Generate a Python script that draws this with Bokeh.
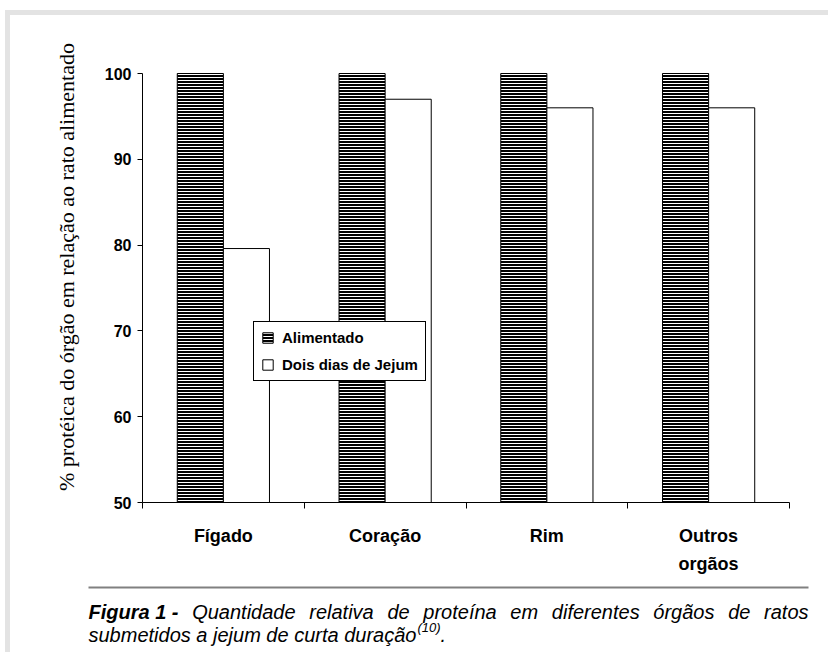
from bokeh.plotting import figure
from bokeh.layouts import column, row
from bokeh.models import (Range1d, FixedTicker, Legend, LegendItem, Label, BoxAnnotation)
from bokeh.embed import file_html
from bokeh.resources import INLINE

# ---------------- data ----------------
categories = ["Fígado", "Coração", "Rim", "Outros\norgãos"]
alimentado = [100, 100, 100, 100]
jejum = [79.6, 97, 96, 96]
series_names = ["Alimentado", "Dois dias de Jejum"]
y_ticks = [50, 60, 70, 80, 90, 100]
y_label = "% protéica do órgão em relação ao rato alimentado"
caption_bold = "Figura 1 -"
caption_line1 = "Quantidade relativa de proteína em diferentes órgãos de ratos"
caption_line2 = "submetidos a jejum de curta duração"
caption_sup = "(10)"

# ---------------- layout (page pixels) ----------------
PW = 828
ROW_B = 578          # bottom of the chart figure
CAP_H = 74           # caption strip height
FL, FR, FT, FB = 142, 789, 73, 502   # axis extent on page
FTOP = 31            # frame top (room for the y title centred higher)
BAND = "#e3e3e3"
n = len(categories)
Y0, Y1 = 50, 100
Ytop = Y0 + (FB - FTOP) / (FB - FT) * (Y1 - Y0)

# ---- main chart ----
p = figure(width=PW, height=ROW_B, output_backend="svg", toolbar_location=None,
           x_range=Range1d(0, n), y_range=Range1d(Y0, Ytop),
           min_border_left=FL, min_border_right=PW - FR,
           min_border_top=FTOP, min_border_bottom=ROW_B - FB)
p.outline_line_color = None
p.grid.visible = False
p.background_fill_alpha = 0
p.border_fill_alpha = 0

bw = 0.285
xs = [i + 0.5 for i in range(n)]
r1 = p.vbar(x=[x - bw / 2 for x in xs], top=alimentado, bottom=Y0, width=bw,
            fill_color="black", line_color="black", line_width=1,
            hatch_pattern="horizontal_line", hatch_color="white",
            hatch_scale=3, hatch_weight=1)
r2 = p.vbar(x=[x + bw / 2 for x in xs], top=jejum, bottom=Y0, width=bw,
            fill_color="white", line_color="black", line_width=1)

xa = p.xaxis[0]
xa.ticker = FixedTicker(ticks=xs, minor_ticks=list(range(n + 1)))
xa.major_label_overrides = {x: c for x, c in zip(xs, categories)}
xa.major_tick_line_color = None
xa.major_tick_out = 6
xa.major_tick_in = 0
xa.minor_tick_out = 6
xa.minor_tick_in = 0
xa.minor_tick_line_color = "black"
xa.axis_line_color = "black"
xa.major_label_text_font = "Liberation Sans"
xa.major_label_text_font_style = "bold"
xa.major_label_text_font_size = "18px"
xa.major_label_text_color = "black"
xa.major_label_text_line_height = 1.4
xa.major_label_standoff = 17

ya = p.yaxis[0]
ya.ticker = FixedTicker(ticks=y_ticks)
ya.bounds = (Y0, Y1)
ya.major_tick_out = 5
ya.major_tick_in = 0
ya.minor_tick_line_color = None
ya.major_label_text_font = "Liberation Sans"
ya.major_label_text_font_style = "bold"
ya.major_label_text_font_size = "16px"
ya.major_label_text_color = "black"
ya.major_label_standoff = 6
ya.axis_line_color = "black"
ya.major_tick_line_color = "black"
ya.axis_label = y_label
ya.axis_label_text_font = "Liberation Serif"
ya.axis_label_text_font_style = "normal"
ya.axis_label_text_font_size = "22px"
ya.axis_label_text_color = "black"
ya.axis_label_standoff = 23

legend = Legend(items=[LegendItem(label=series_names[0], renderers=[r1]),
                       LegendItem(label=series_names[1], renderers=[r2])],
                location=(253 - FL, FB - 381))
legend.border_line_color = "black"
legend.border_line_alpha = 1
legend.border_line_width = 1
legend.background_fill_color = "white"
legend.background_fill_alpha = 1
legend.label_text_font = "Liberation Sans"
legend.label_text_font_style = "bold"
legend.label_text_font_size = "15px"
legend.label_text_color = "black"
legend.glyph_width = 13
legend.glyph_height = 13
legend.label_standoff = 8
legend.padding = 7
legend.spacing = 10
legend.margin = 0
p.add_layout(legend)

# ---- caption strip ----
cap = figure(width=PW, height=CAP_H, output_backend="svg", toolbar_location=None,
             x_axis_type=None, y_axis_type=None, min_border=0,
             x_range=Range1d(0, PW), y_range=Range1d(CAP_H, 0))
cap.outline_line_color = None
cap.background_fill_alpha = 0
cap.border_fill_alpha = 0
cap.add_layout(BoxAnnotation(left=88, right=808, top=586 - ROW_B, bottom=588 - ROW_B,
                             fill_color="#808080", fill_alpha=1, line_color=None))

AW = {' ': 278, 'a': 556, 'b': 556, 'c': 500, 'd': 556, 'e': 556, 'f': 278, 'g': 556,
      'h': 556, 'i': 222, 'j': 222, 'k': 500, 'l': 222, 'm': 833, 'n': 556, 'o': 556,
      'p': 556, 'q': 556, 'r': 333, 's': 500, 't': 278, 'u': 556, 'v': 500, 'w': 722,
      'x': 500, 'y': 500, 'z': 500, 'Q': 778, 'F': 611, '1': 556, '-': 333, 'ó': 556,
      'í': 278, 'ã': 556, 'ç': 500, '0': 556, '(': 333, ')': 333, '.': 278}
BW = dict(AW, **{'g': 611, 'u': 611, 'r': 389, 'i': 278})
fs = 20
fs_sup = 13

def tw(s, table=AW, size=fs):
    return sum(table.get(ch, 556) for ch in s) / 1000 * size

def ctext(x, y, text, style, size):
    cap.add_layout(Label(x=x, y=y - ROW_B, text=text, text_align="left",
                         text_baseline="alphabetic", text_font="Liberation Sans",
                         text_font_style=style, text_font_size=f"{size}px",
                         text_color="black"))

cx0, cx1 = 88, 808
words = [(caption_bold, "bold italic", BW)] + [(w, "italic", AW) for w in caption_line1.split()]
total = sum(tw(w, t) for w, _, t in words)
gap = (cx1 - cx0 - total) / (len(words) - 1)
xcur = cx0
for w, st, t in words:
    ctext(xcur, 611, w, st, fs)
    xcur += tw(w, t) + gap

ctext(cx0, 634, caption_line2, "italic", fs)
xs2 = cx0 + tw(caption_line2) + 1
ctext(xs2, 627, caption_sup, "italic", fs_sup)
ctext(xs2 + tw(caption_sup, size=fs_sup), 634, ".", "italic", fs)

# page frame bands (light grey L-shaped border) as the layout background
bg = (f"linear-gradient({BAND}, {BAND}) 5px 10px / {PW - 5}px 5px no-repeat, "
      f"linear-gradient({BAND}, {BAND}) 5px 10px / 5px {ROW_B + CAP_H - 10}px no-repeat, "
      "white")
layout = column(row(p), cap, spacing=0, styles={"background": bg})
open("out.html", "w").write(file_html(layout, INLINE))
